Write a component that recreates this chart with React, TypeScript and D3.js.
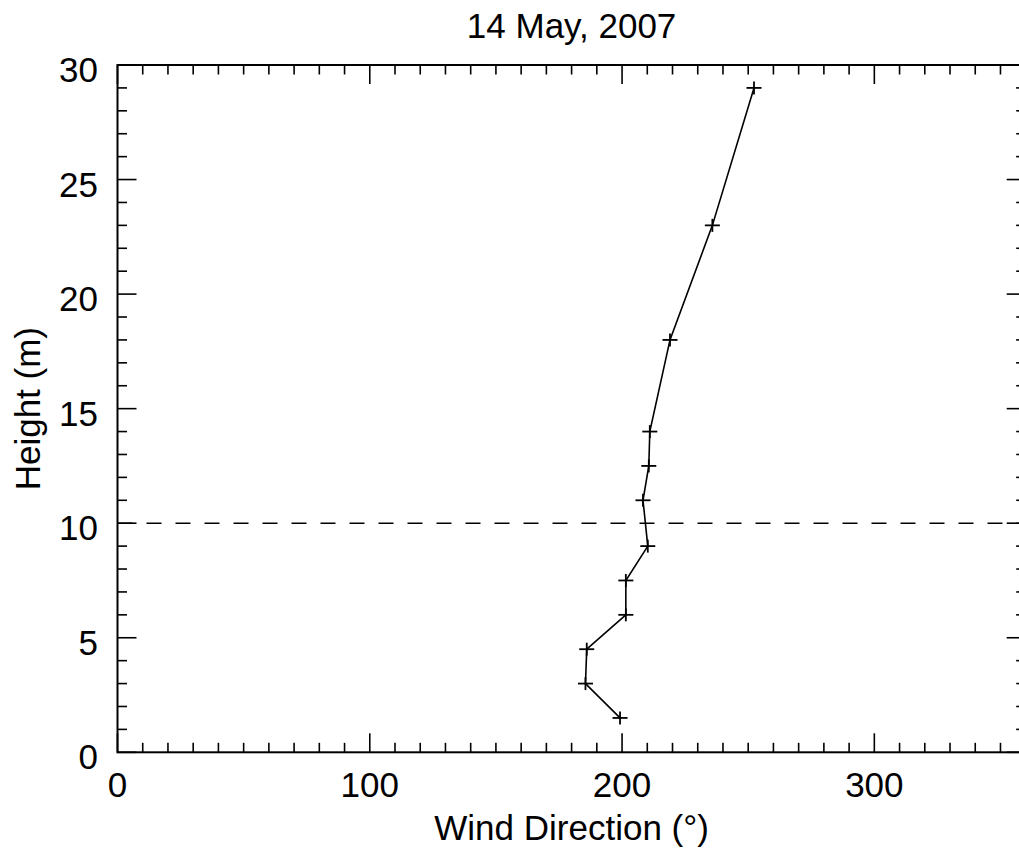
import React from "react";
import * as d3 from "d3";

const title = "14 May, 2007";
const xLabel = "Wind Direction (°)";
const yLabel = "Height (m)";
const heights = [1.5, 3, 4.5, 6, 7.5, 9, 11, 12.5, 14, 18, 23, 29];
const directions = [199.2, 185.5, 186, 201.5, 201.5, 210.2, 208.3, 210.6, 211, 219, 235.8, 252.3];
const xMajorTicks = [0, 100, 200, 300];
const yMajorTicks = [0, 5, 10, 15, 20, 25, 30];
const refHeight = 10;

const W = 1019;
const H = 854;
const left = 117.5;
const right = 1025.7;
const top = 65;
const bottom = 752.3;
const FONT = "'Liberation Sans', Arial, Helvetica, sans-serif";

export default function App() {
  const x = d3.scaleLinear().domain([0, 360]).range([left, right]);
  const y = d3.scaleLinear().domain([0, 30]).range([bottom, top]);
  const xMinor = d3.range(0, 361, 10);
  const yMinor = d3.range(0, 31, 1);
  const line = d3
    .line<number>()
    .x((_, i) => x(directions[i]))
    .y((d) => y(d));
  const majL = 19;
  const minL = 9.5;
  return (
    <svg
      width={W}
      height={H}
      style={{ position: "absolute", left: 0, top: 0, background: "#fff" }}
    >
      <rect x={0} y={0} width={W} height={H} fill="#fff" />
      {/* ticks */}
      <g stroke="#000" strokeWidth={1.6}>
        {xMinor.map((v) => {
          const L = v % 100 === 0 ? majL : minL;
          return (
            <g key={"xt" + v}>
              <line x1={x(v)} x2={x(v)} y1={bottom} y2={bottom - L} />
              <line x1={x(v)} x2={x(v)} y1={top} y2={top + L} />
            </g>
          );
        })}
        {yMinor.map((v) => {
          const L = v % 5 === 0 ? majL : minL;
          return (
            <g key={"yt" + v}>
              <line x1={left} x2={left + L} y1={y(v)} y2={y(v)} />
              <line x1={right} x2={right - L} y1={y(v)} y2={y(v)} />
            </g>
          );
        })}
      </g>
      {/* frame */}
      <rect
        x={left}
        y={top}
        width={right - left}
        height={bottom - top}
        fill="none"
        stroke="#000"
        strokeWidth={2}
      />
      {/* reference line */}
      <line
        x1={left}
        x2={right}
        y1={y(refHeight)}
        y2={y(refHeight)}
        stroke="#000"
        strokeWidth={1.6}
        strokeDasharray="15,14"
      />
      {/* data */}
      <path d={line(heights) || ""} fill="none" stroke="#000" strokeWidth={1.6} />
      <g stroke="#000" strokeWidth={1.8}>
        {heights.map((h, i) => (
          <g key={"p" + i}>
            <line x1={x(directions[i]) - 7.5} x2={x(directions[i]) + 7.5} y1={y(h)} y2={y(h)} />
            <line x1={x(directions[i])} x2={x(directions[i])} y1={y(h) - 6.5} y2={y(h) + 6.5} />
          </g>
        ))}
      </g>
      {/* tick labels */}
      <g fontFamily={FONT} fontSize={35} fill="#000">
        {xMajorTicks.map((v) => (
          <text key={"xl" + v} x={x(v)} y={796.7} textAnchor="middle">
            {v}
          </text>
        ))}
        {yMajorTicks.map((v) => (
          <text key={"yl" + v} x={98} y={y(v) + 17} textAnchor="end">
            {v}
          </text>
        ))}
        <text x={(left + right) / 2} y={38.3} textAnchor="middle">
          {title}
        </text>
        <text x={(left + right) / 2} y={840} textAnchor="middle">
          {xLabel}
        </text>
        <text
          transform={`translate(40, ${(top + bottom) / 2}) rotate(-90)`}
          textAnchor="middle"
        >
          {yLabel}
        </text>
      </g>
    </svg>
  );
}
